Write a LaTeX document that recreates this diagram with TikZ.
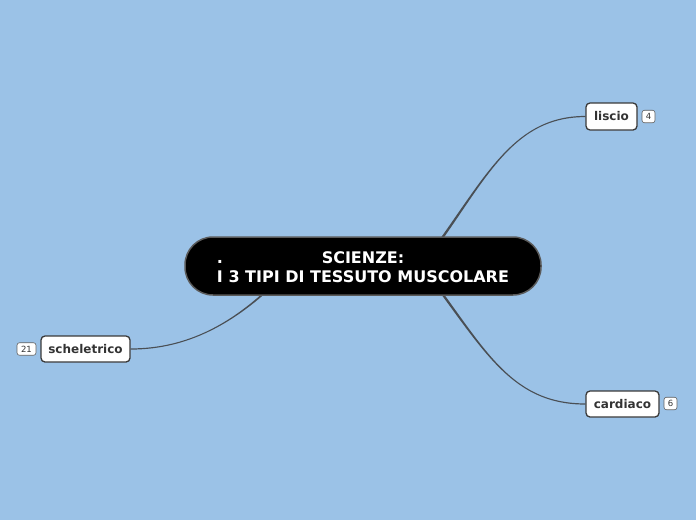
\documentclass[tikz,border=0pt]{standalone}
\usepackage{fontspec}
\setmainfont{DejaVu Sans}
\usetikzlibrary{calc}
\definecolor{bgblue}{HTML}{9BC2E7}
\definecolor{edgegray}{HTML}{4A4F55}
\definecolor{boxborder}{HTML}{3A3A3A}
\definecolor{boxtext}{HTML}{333333}
\definecolor{centerborder}{HTML}{5A5A5A}
\pgfdeclarelayer{edgelayer}
\pgfsetlayers{edgelayer,main}
\tikzset{
  centerbox/.style={draw=centerborder, line width=1.5pt, fill=black, text=white,
    rounded corners=28pt, minimum width=356pt, minimum height=58pt, inner sep=0pt,
    font=\fontsize{16}{18.4}\selectfont\bfseries},
  topicbox/.style={draw=boxborder, line width=1.3pt, fill=white, text=boxtext,
    rounded corners=4pt, minimum height=26pt, inner sep=0pt,
    font=\fontsize{12}{14}\selectfont\bfseries},
  badge/.style={draw=boxborder!80, line width=0.6pt, fill=white, text=boxtext,
    rounded corners=2.5pt, minimum height=12.5pt, inner sep=0pt,
    font=\fontsize{8.5}{9}\selectfont},
  edgefill/.style={fill=edgegray}
}
% #1..#4: bezier points, #5: sign (1 or -1) of end offset
\newcommand\taperedge[5]{%
  \fill[edgefill] ($(#1)+(-1.6,0)$) .. controls ($(#2)+(-1.2,0)$) and ($(#3)+(0,-0.6*#5)$) .. ($(#4)+(0,-0.6*#5)$)
    -- ($(#4)+(0,0.6*#5)$) .. controls ($(#3)+(0,0.6*#5)$) and ($(#2)+(1.2,0)$) .. ($(#1)+(1.6,0)$) -- cycle;}
\begin{document}
\begin{tikzpicture}[x=1pt,y=-1pt]
\useasboundingbox (0,0) rectangle (696,520);
\begin{pgfonlayer}{edgelayer}
\fill[bgblue] (0,0) rectangle (696,520);
\end{pgfonlayer}
\node[centerbox] (c) at (363,266) {\raisebox{0pt}[\dimexpr\height+6pt\relax][\depth]{\begin{tabular}{@{}c@{}}.\hfill SCIENZE:\hfill\phantom{.}\\[0.4pt] I 3 TIPI DI TESSUTO MUSCOLARE\end{tabular}}};
\node[topicbox, minimum width=51pt, minimum height=27pt] (l) at (611.5,116.5) {liscio};
\node[topicbox, minimum width=89pt] (s) at (85.5,349) {scheletrico};
\node[topicbox, minimum width=73pt] (d) at (622.5,404) {cardiaco};
\node[badge, minimum width=13pt] (bl) at (648.5,116.5) {4};
\node[badge, minimum width=19pt] (bs) at (26.5,349) {21};
\node[badge, minimum width=13pt] (bd) at (670.5,403.5) {6};
\begin{pgfonlayer}{edgelayer}
\coordinate (t0) at ($(c.center)+(57,2)$);
\coordinate (t1) at ($(c.center)+(119,-78)$);
\coordinate (t2) at ($(l.west)+(-78,0)$);
\taperedge{t0}{t1}{t2}{l.west}{1}
\coordinate (r0) at ($(c.center)+(57,-2)$);
\coordinate (r1) at ($(c.center)+(119,78)$);
\coordinate (r2) at ($(d.west)+(-78,0)$);
\taperedge{r0}{r1}{r2}{d.west}{-1}
\coordinate (s0) at ($(c.center)+(-73,2)$);
\coordinate (s1) at ($(c.center)+(-113,44)$);
\coordinate (s2) at ($(s.east)+(70,0)$);
\taperedge{s0}{s1}{s2}{s.east}{1}
\end{pgfonlayer}
\end{tikzpicture}
\end{document}
